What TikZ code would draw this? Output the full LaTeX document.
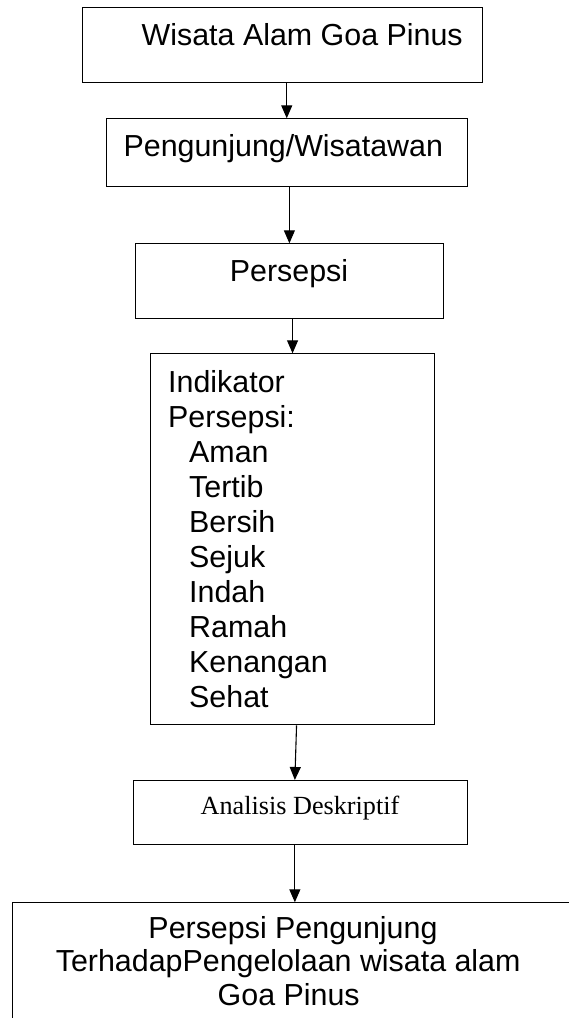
\documentclass[tikz,border=0pt]{standalone}
\usepackage{fontspec}
\setmainfont{Liberation Sans}
\newfontfamily\serifbox{Liberation Serif}
\usetikzlibrary{arrows.meta}
\tikzset{
box/.style={draw, line width=1.1pt, rectangle, inner sep=0pt, anchor=north west},
txt/.style={font=\fontsize{30.4}{35}\selectfont, inner sep=0pt, anchor=base},
arr/.style={-{Triangle[length=13pt,width=11pt]}, line width=1.1pt}
}
\begin{document}
\begin{tikzpicture}[x=1pt,y=-1pt]
\useasboundingbox (0,0) rectangle (569,1018);
\clip (0,0) rectangle (569,1018);
\node[box, minimum width=400.3pt, minimum height=75pt](wisata) at (81.7,7.3) {};
\node[box, minimum width=361pt, minimum height=67.4pt](pengunjung) at (105.7,118.3) {};
\node[box, minimum width=307.7pt, minimum height=75pt](persepsi) at (135,243.3) {};
\node[box, minimum width=284pt, minimum height=371pt](indikator) at (150,353.3) {};
\node[box, minimum width=333.4pt, minimum height=64pt](analisis) at (133.3,780) {};
\node[box, minimum width=620pt, minimum height=160pt](hasil) at (11.7,902.3) {};
\node[txt](wisatatxt) at (302.2,45) {Wisata Alam Goa Pinus};
\node[txt](pengunjungtxt) at (283.3,156.7) {Pengunjung/Wisatawan};
\node[txt](persepsitxt) at (289,281) {Persepsi};
\node[txt, anchor=base west](ind0) at (168,392) {Indikator};
\node[txt, anchor=base west](ind1) at (168,427) {Persepsi:};
\foreach \w [count=\i from 2] in {Aman,Tertib,Bersih,Sejuk,Indah,Ramah,Kenangan,Sehat}
\node[txt, anchor=base west](ind\i) at (189,{392+35*\i}) {\w};
\node[txt, font=\serifbox\fontsize{26.2}{30}\selectfont](analisistxt) at (300,814) {Analisis Deskriptif};
\node[txt](hasil1) at (293,938.3) {Persepsi Pengunjung};
\node[txt](hasil2) at (288.2,971) {TerhadapPengelolaan wisata alam};
\node[txt](hasil3) at (288.7,1005) {Goa Pinus};
\draw[arr](pengunjung.north |- wisata.south)--(pengunjung.north);
\draw[arr](persepsi.north |- pengunjung.south)--(persepsi.north);
\draw[arr](indikator.north |- persepsi.south)--(indikator.north);
\draw[arr]([xshift=4pt]indikator.south)--([xshift=-5.7pt]analisis.north);
\draw[arr]([xshift=-5.7pt]analisis.south)--([xshift=-5.7pt]analisis.south |- hasil.north);
\end{tikzpicture}
\end{document}
